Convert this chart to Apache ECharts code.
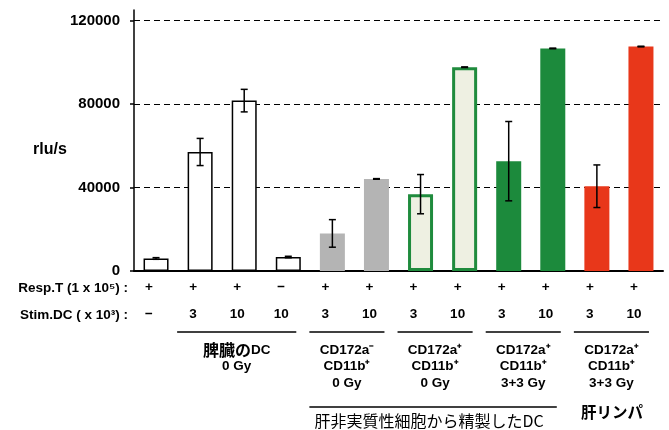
<!DOCTYPE html>
<html>
<head>
<meta charset="utf-8">
<script src="https://cdn.jsdelivr.net/npm/echarts@6/dist/echarts.min.js"></script>
<style>
html,body{margin:0;padding:0;background:#fff;}
#chart{width:669px;height:430px;}
</style>
</head>
<body>
<div id="chart"></div>
<script>
// ---- data ----
const categories = ['1','2','3','4','5','6','7','8','9','10','11','12'];
const respT = ['+','+','+','−','+','+','+','+','+','+','+','+'];
const stimDC = ['−','3','10','10','3','10','3','10','3','10','3','10'];
const values = [6000, 57000, 81600, 6700, 18000, 44100, 36800, 97600, 52600, 106600, 40600, 107500];
const errors = [400, 6500, 5400, 350, 6600, 150, 9400, 150, 19000, 150, 10200, 150];
const yTicks = [0, 40000, 80000, 120000];
const groupLabels = ['脾臓のDC\n0 Gy', 'CD172a⁻\nCD11b⁺\n0 Gy', 'CD172a⁺\nCD11b⁺\n0 Gy', 'CD172a⁺\nCD11b⁺\n3+3 Gy', 'CD172a⁺\nCD11b⁺\n3+3 Gy'];
const groupRanges = [[1, 3], [4, 5], [6, 7], [8, 9], [10, 11]];
const superLabel = '肝非実質性細胞から精製したDC';
const superRange = [4, 9];
const sideLabel = '肝リンパ';
const sideIndex = [10, 11];
const rowLabels = ['Resp.T (1 x 10⁵) :', 'Stim.DC ( x 10³) :'];
const yName = 'rlu/s';

// ---- styles ----
const kinds = ['white','white','white','white','gray','gray','lgreen','lgreen','green','green','red','red'];
const barStyles = {
  white: {color: '#ffffff', borderColor: '#000000', borderWidth: 1.5},
  gray: {color: '#b4b4b4'},
  lgreen: {color: '#eef0e2', borderColor: '#1f8b3d', borderWidth: 3},
  green: {color: '#1c8a3c'},
  red: {color: '#e8371a'}
};
const FONT = "'Liberation Sans','Noto Sans CJK JP',sans-serif";
const JFONT = "'Noto Sans CJK JP',sans-serif";

const chart = echarts.init(document.getElementById('chart'), null, {renderer: 'canvas'});

function errorItem(params, api) {
  const x = api.value(0), v = api.value(1), e = api.value(2);
  const t = api.coord([x, v + e]);
  const b = api.coord([x, v - e]);
  const hw = 3.5;
  const st = {stroke: '#000', lineWidth: 1.5};
  return {type: 'group', children: [
    {type: 'line', shape: {x1: t[0], y1: t[1], x2: b[0], y2: b[1]}, style: st},
    {type: 'line', shape: {x1: t[0] - hw, y1: t[1], x2: t[0] + hw, y2: t[1]}, style: st},
    {type: 'line', shape: {x1: b[0] - hw, y1: b[1], x2: b[0] + hw, y2: b[1]}, style: st}
  ]};
}

chart.setOption({
  animation: false,
  backgroundColor: '#fff',
  textStyle: {fontFamily: FONT},
  grid: {left: 134, right: 6, top: 10, bottom: 159, containLabel: false},
  xAxis: {
    type: 'category',
    data: categories,
    axisLine: {lineStyle: {color: '#000', width: 2}},
    axisTick: {show: false},
    axisLabel: {
      interval: 0, margin: 3, color: '#000', fontFamily: FONT, fontWeight: 'bold', fontSize: 13.5,
      lineHeight: 27, padding: [0, 14, 0, 0],
      formatter: (v, i) => respT[i] + '\n' + stimDC[i]
    }
  },
  yAxis: {
    type: 'value', min: 0, max: 125000, interval: 40000,
    axisLine: {show: true, lineStyle: {color: '#000', width: 1.5}},
    axisTick: {show: true, length: 4, lineStyle: {color: '#000', width: 1.5}, customValues: yTicks},
    axisLabel: {customValues: yTicks, margin: 14, color: '#000', fontFamily: FONT, fontWeight: 'bold', fontSize: 15,
      formatter: v => String(v)},
    splitLine: {show: true, lineStyle: {color: '#000', width: 1, type: [6, 4]}}
  },
  series: [
    {
      type: 'bar', barWidth: 25,
      data: values.map((v, i) => ({value: v, itemStyle: barStyles[kinds[i]]})),
      z: 2
    },
    {
      type: 'custom', renderItem: errorItem, z: 5,
      data: values.map((v, i) => [i, v, errors[i]])
    }
  ]
});

// annotations positioned from the axis scale
function px(i) { return chart.convertToPixel({xAxisIndex: 0}, i); }
const axisY = chart.convertToPixel({yAxisIndex: 0}, 0);
const g = [];
function richify(s) {
  return s.replace(/([\u3040-\u30ff\u4e00-\u9fff]+)/g, '{j|$1}');
}
groupRanges.forEach((r, k) => {
  const x1 = px(r[0]) - 23, x2 = px(r[1]) + 8;
  g.push({type: 'line', shape: {x1: x1, y1: axisY + 61, x2: x2, y2: axisY + 61}, style: {stroke: '#000', lineWidth: 1.5}});
  g.push({type: 'text', x: (x1 + x2) / 2, y: axisY + 71, style: {
    text: richify(groupLabels[k]), fill: '#000', fontFamily: FONT, fontWeight: 'bold', fontSize: 13.5,
    align: 'center', verticalAlign: 'top', lineHeight: 16.5,
    rich: {j: {fontFamily: JFONT, fontWeight: 'bold', fontSize: 16, lineHeight: 16.5, fill: '#000'}}
  }});
});
{
  const x1 = px(superRange[0]) - 23, x2 = px(superRange[1]) + 4;
  g.push({type: 'line', shape: {x1: x1, y1: axisY + 136, x2: x2, y2: axisY + 136}, style: {stroke: '#000', lineWidth: 1.5}});
  g.push({type: 'text', x: (x1 + x2) / 2 - 4, y: axisY + 142, style: {text: superLabel, fill: '#000', font: '16px ' + JFONT, align: 'center', verticalAlign: 'top'}});
  const sx = (px(sideIndex[0]) + px(sideIndex[1])) / 2 - 7;
  g.push({type: 'text', x: sx, y: axisY + 133, style: {text: sideLabel, fill: '#000', font: 'bold 15.5px ' + JFONT, align: 'center', verticalAlign: 'top'}});
}
g.push({type: 'text', x: 128, y: axisY + 17, style: {text: rowLabels[0], fill: '#000', font: 'bold 13.5px ' + FONT, align: 'right', verticalAlign: 'middle'}});
g.push({type: 'text', x: 128, y: axisY + 44, style: {text: rowLabels[1], fill: '#000', font: 'bold 13.5px ' + FONT, align: 'right', verticalAlign: 'middle'}});
g.push({type: 'text', x: 50, y: chart.convertToPixel({yAxisIndex: 0}, 58000), style: {text: yName, fill: '#000', font: 'bold 16px ' + FONT, align: 'center', verticalAlign: 'middle'}});
chart.setOption({graphic: g});
</script>
</body>
</html>
